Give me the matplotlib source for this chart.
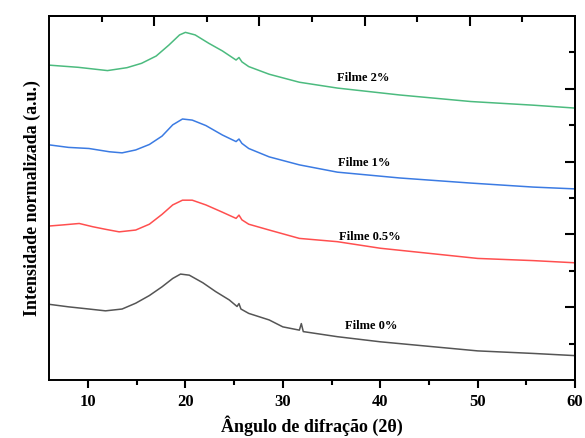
import numpy as np
import matplotlib
matplotlib.use("Agg")
import matplotlib.pyplot as plt

plt.rcParams['font.family'] = ['Liberation Serif', 'DejaVu Serif']

# Intensidade normalizada (u.a.), com deslocamento vertical por curva
x_2 = [6, 9, 12, 14, 15.5, 17, 18.3, 19.4, 20, 21, 22.4, 23.8, 25.2, 25.5, 25.8,
       26.5, 28.6, 31.7, 35.6, 42, 49.3, 55.7, 60]
y_2 = [8.65, 8.59, 8.50, 8.58, 8.70, 8.90, 9.20, 9.48, 9.55, 9.48, 9.25, 9.04, 8.79, 8.86, 8.74,
       8.61, 8.40, 8.18, 8.02, 7.83, 7.65, 7.55, 7.47]

x_1 = [6, 8, 10.1, 12.2, 13.5, 14.9, 16.3, 17.6, 18.7, 19.7, 20.7, 22.1, 23.8, 25.2, 25.5, 25.8,
       26.5, 28.6, 31.7, 35.6, 42, 49.3, 55.7, 60]
y_1 = [6.46, 6.39, 6.36, 6.27, 6.24, 6.32, 6.47, 6.70, 7.01, 7.17, 7.14, 6.99, 6.73, 6.55, 6.62, 6.50,
       6.36, 6.13, 5.91, 5.71, 5.55, 5.41, 5.30, 5.25]

x_05 = [6, 7.4, 9.1, 10.5, 11.8, 13.2, 14.9, 16.3, 17.6, 18.7, 19.7, 20.7, 22.1, 23.8, 25.2, 25.5,
        25.8, 26.5, 28.6, 31.7, 35.6, 40, 50, 55.7, 60]
y_05 = [4.23, 4.26, 4.30, 4.21, 4.14, 4.07, 4.12, 4.28, 4.55, 4.81, 4.94, 4.94, 4.81, 4.61, 4.44, 4.53,
        4.40, 4.28, 4.12, 3.89, 3.80, 3.62, 3.34, 3.28, 3.22]

x_0 = [6, 8, 10.1, 11.8, 13.5, 14.9, 16.3, 17.6, 18.7, 19.5, 20.4, 21.8, 23.1, 24.5, 25.3, 25.5,
       25.7, 26.5, 28.6, 30, 31.7, 31.9, 32.1, 35.6, 40, 50, 55.7, 60]
y_0 = [2.08, 2.01, 1.95, 1.90, 1.95, 2.11, 2.32, 2.56, 2.79, 2.91, 2.88, 2.67, 2.43, 2.20, 2.02, 2.10,
       1.95, 1.83, 1.65, 1.46, 1.37, 1.55, 1.33, 1.19, 1.05, 0.80, 0.73, 0.67]

nomes = ['Filme 0%', 'Filme 0.5%', 'Filme 1%', 'Filme 2%']
cores = ['#555555', '#ff4f4f', '#3b7be3', '#4cbb7f']
pos_x = [39.1, 38.9, 38.4, 38.2]
pos_y = [1.48, 3.93, 5.96, 8.30]

fig = plt.figure(figsize=(5.85, 4.38), dpi=100)
ax = fig.add_axes([0.0838, 0.1324, 0.8992, 0.8311])

curvas = [(x_0, y_0), (x_05, y_05), (x_1, y_1), (x_2, y_2)]
for (xs, ys), c in zip(curvas, cores):
    ax.plot(xs, ys, color=c, lw=1.1)

for nome, px, py in zip(nomes, pos_x, pos_y):
    ax.text(px, py, nome, ha='center', va='center', fontsize=9, fontweight='bold')

ax.set_xlim(6, 60)
ax.set_ylim(0, 10)

ax.set_xticks([10, 20, 30, 40, 50, 60])
ax.set_xticks([15, 25, 35, 45, 55], minor=True)
ax.tick_params(axis='x', which='major', direction='out', length=6, width=1.5,
               labelsize=12, pad=4, top=False)
ax.tick_params(axis='x', which='minor', direction='out', length=3.5, width=1.5, top=False)
for lab in ax.get_xticklabels():
    lab.set_fontweight('bold')
ax.tick_params(axis='y', which='both', left=False, labelleft=False, right=False)
for s in ax.spines.values():
    s.set_linewidth(1.4)

# marcas de cima e da direita (escala propria, sem rotulos)
sec_top = ax.secondary_xaxis('top', functions=(lambda v: (v - 6) / 10.8, lambda u: u * 10.8 + 6))
sec_top.set_xticks([1, 2, 3, 4])
sec_top.set_xticks([0.5, 1.5, 2.5, 3.5, 4.5], minor=True)
sec_top.tick_params(axis='x', which='major', direction='in', length=7, width=1.5, labeltop=False)
sec_top.tick_params(axis='x', which='minor', direction='in', length=4, width=1.5)
sec_top.spines['top'].set_linewidth(1.4)

sec_r = ax.secondary_yaxis('right', functions=(lambda v: v / 2, lambda u: u * 2))
sec_r.set_yticks([1, 2, 3, 4])
sec_r.set_yticks([0.5, 1.5, 2.5, 3.5, 4.5], minor=True)
sec_r.tick_params(axis='y', which='major', direction='in', length=7, width=1.5, labelright=False)
sec_r.tick_params(axis='y', which='minor', direction='in', length=4, width=1.5)
sec_r.spines['right'].set_linewidth(1.4)

ax.set_xlabel('Ângulo de difração (2θ)', fontsize=13, fontweight='bold', labelpad=4)
ax.set_ylabel('Intensidade normalizada (a.u.)', fontsize=13, fontweight='bold', labelpad=6)

fig.savefig('out.png', dpi=100)
